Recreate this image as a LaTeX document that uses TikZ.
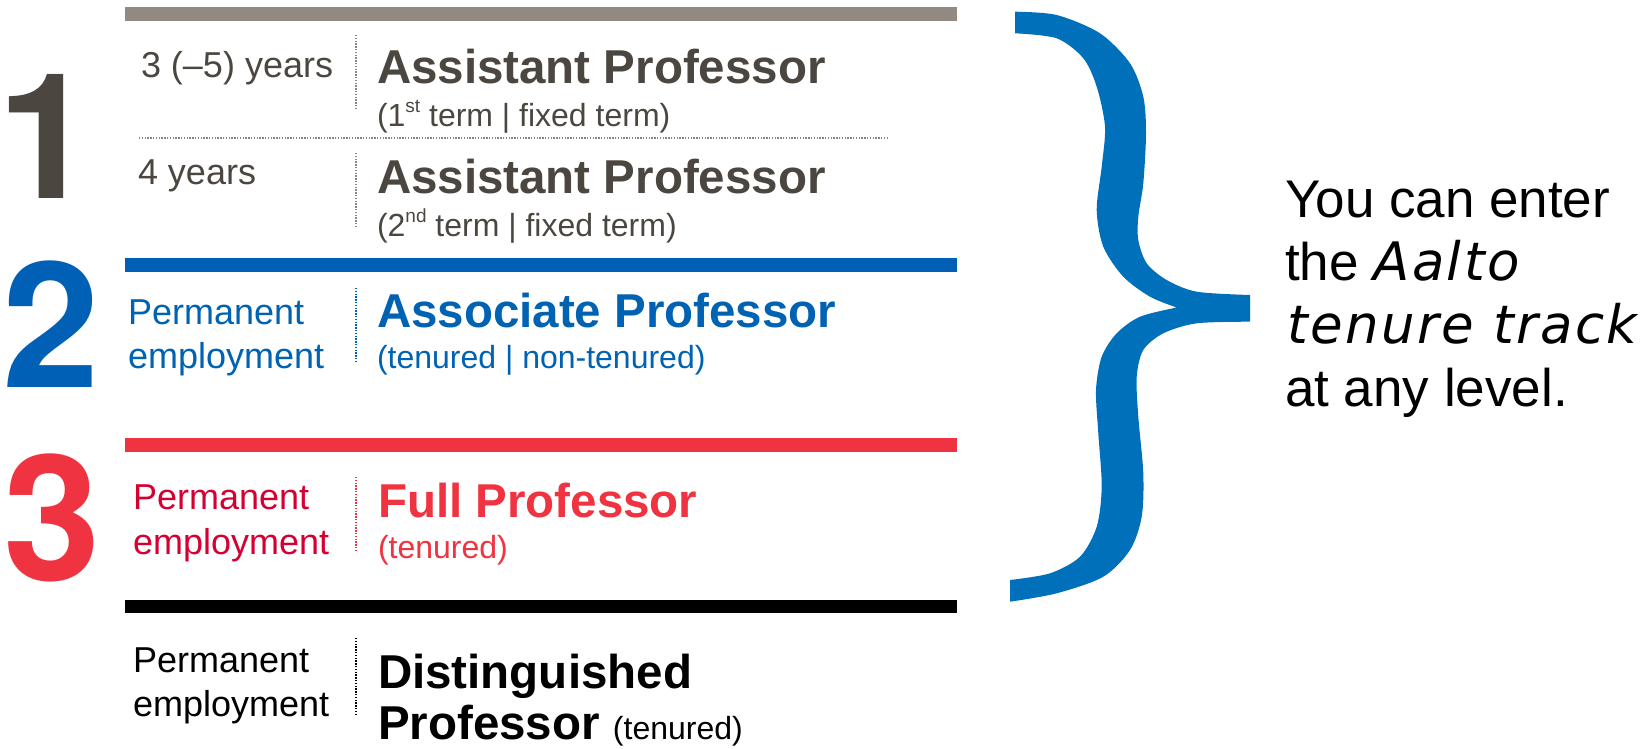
\documentclass[tikz,border=0pt]{standalone}
\usepackage{fontspec}
\setmainfont{Liberation Sans}
\newfontfamily\dejavu[LetterSpace=4.5]{DejaVu Sans}
\newfontfamily\heros{TeX Gyre Heros}
\newcommand\setfs[1]{\fontsize{#1}{#1}\selectfont}
\newcommand\supr[1]{\raisebox{0.42em}{\setfs{19}#1}}
\definecolor{gbar}{HTML}{928A80}
\definecolor{gtext}{HTML}{4B4740}
\definecolor{bluebar}{HTML}{0060B6}
\definecolor{bluetext}{HTML}{0062B2}
\definecolor{redbar}{HTML}{EF3340}
\definecolor{crimson}{HTML}{D50032}
\definecolor{bracec}{HTML}{0070BA}
\definecolor{gdot}{HTML}{8C857C}
\begin{document}
\begin{tikzpicture}[x=1pt,y=-1pt,
  lab/.style={anchor=base west, inner sep=0pt, outer sep=0pt},
  bignum/.style={anchor=base, inner sep=0pt, outer sep=0pt, font=\setfs{175}\heros\bfseries},
  yrs/.style={lab, font=\setfs{36}},
  ptitle/.style={lab, font=\setfs{47.5}\bfseries},
  psub/.style={lab, font=\setfs{32}},
  vdots/.style={line width=1.4pt, dash pattern=on 1.4pt off 1.4pt},
  rtext/.style={lab, font=\setfs{53}}]
\useasboundingbox (0,0) rectangle (1643,748);

% bars
\fill[gbar] (125,7) rectangle (957,21);
\fill[bluebar] (125,258) rectangle (957,272);
\fill[redbar] (125,438) rectangle (957,452);
\fill[black] (125,600) rectangle (957,613);

% big numbers
\node[bignum, text=gtext] (n1) at (46,198) {1};
\node[bignum, text=bluebar] (n2) at (51,387) {2};
\node[bignum, text=redbar] (n3) at (52,580) {3};

% level 1
\node[yrs, text=gtext] (y1) at (141,77) {3 (–5) years};
\draw[vdots, gdot] (356,35) -- (356,108);
\node[ptitle, text=gtext] (a1) at (377,83) {Assistant Professor};
\node[psub, text=gtext] (a1s) at (377,126) {(1\supr{st} term | fixed term)};
\draw[vdots, gdot] (139,138) -- (889,138);
\node[yrs, text=gtext] (y2) at (138,184) {4 years};
\draw[vdots, gdot] (356,153) -- (356,227);
\node[ptitle, text=gtext] (a2) at (377,193) {Assistant Professor};
\node[psub, text=gtext] (a2s) at (377,236) {(2\supr{nd} term | fixed term)};

% level 2
\node[yrs, text=bluetext] (p2a) at (128,324) {Permanent};
\node[yrs, text=bluetext] (p2b) at (128,368) {employment};
\draw[vdots, bluetext] (356,288) -- (356,362);
\node[ptitle, text=bluetext] (as) at (377,327) {Associate Professor};
\node[psub, text=bluetext] (ass) at (377,368) {(tenured | non-tenured)};

% level 3
\node[yrs, text=crimson] (p3a) at (133,509) {Permanent};
\node[yrs, text=crimson] (p3b) at (133,554) {employment};
\draw[vdots, redbar] (356,477) -- (356,550);
\node[ptitle, text=redbar] (fp) at (378,517) {Full Professor};
\node[psub, text=redbar] (fps) at (378,558) {(tenured)};

% distinguished
\node[yrs, text=black] (p4a) at (133,672) {Permanent};
\node[yrs, text=black] (p4b) at (133,716) {employment};
\draw[vdots, black] (356,638) -- (356,715);
\node[ptitle, text=black] (dp) at (378,688) {Distinguished};
\node[ptitle, text=black] (dp2) at (378,739) {Professor {\setfs{32}\mdseries (tenured)}};

% brace
\fill[bracec]
  plot[smooth] coordinates {(1015,11.7) (1056.7,15) (1100,33.3) (1130,63.3) (1143.3,96.7) (1146,133.3) (1143.3,183.3) (1138.3,216.7) (1138.3,240) (1146.7,263.3) (1166.7,280) (1196.7,291.7) (1250,295)}
  -- (1250,321.7)
  -- plot[smooth] coordinates {(1250,321.7) (1196.7,323.3) (1163.3,333.3) (1143.3,350) (1136.7,376.7) (1138.3,416.7) (1143.3,473.3) (1141.7,516.7) (1130,550) (1103.3,576.7) (1056.7,593.3) (1010,601.7)}
  -- (1010,580)
  -- plot[smooth] coordinates {(1010,580) (1050,573.3) (1080,556.7) (1096.7,526.7) (1101.7,486.7) (1098.3,433.3) (1096,390) (1101.7,356.7) (1116.7,333.3) (1140,316.7) (1176.7,307.5)}
  -- plot[smooth] coordinates {(1176.7,307.5) (1150,296.7) (1123.3,276.7) (1103.3,246.7) (1096.7,210) (1101.7,166.7) (1105,126.7) (1096.7,86.7) (1083.3,58.3) (1056.7,38.3) (1015,33.3)}
  -- cycle;

% right text
\node[rtext] (r1) at (1285,217) {You can enter};
\node[rtext] (r2) at (1285,280) {the {\dejavu\itshape Aalto}};
\node[rtext] (r3) at (1287,343) {{\dejavu\itshape tenure track}};
\node[rtext] (r4) at (1285,406) {at any level.};
\end{tikzpicture}
\end{document}
